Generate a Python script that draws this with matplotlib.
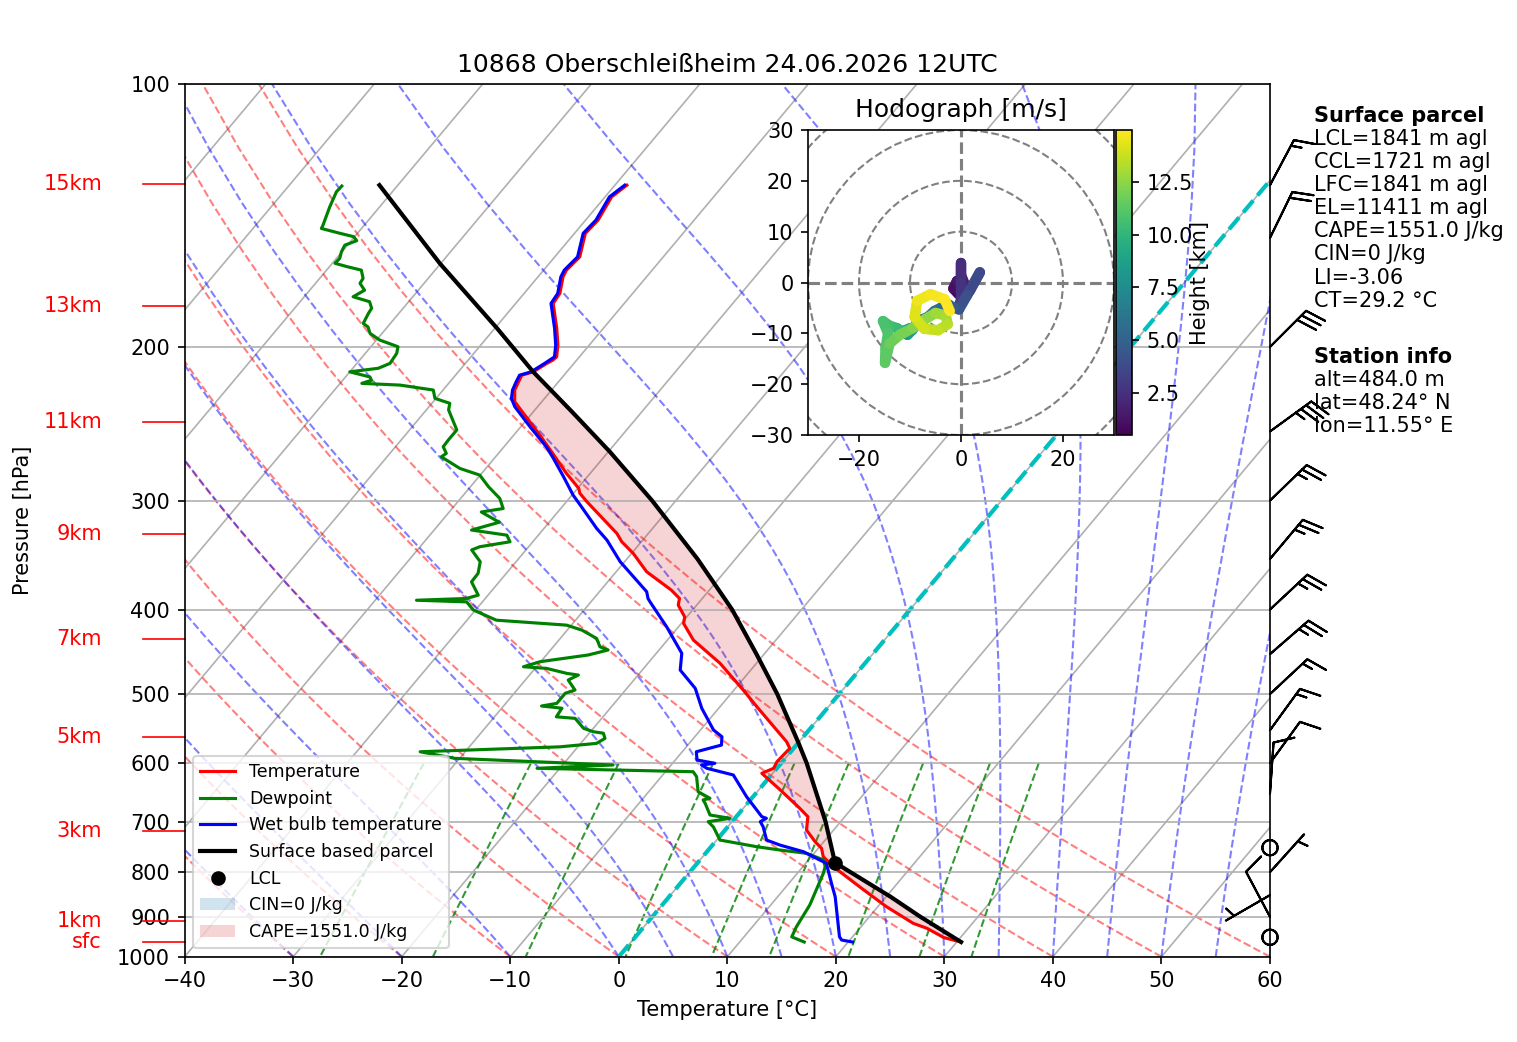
"""Skew-T log-p diagram with hodograph inset for station 10868."""

import numpy as np
import matplotlib

matplotlib.use("Agg")
import matplotlib.pyplot as plt
from matplotlib import transforms
from matplotlib.collections import LineCollection
from matplotlib.colors import Normalize
from matplotlib.patches import Circle, Patch
from matplotlib.ticker import NullLocator

# --- sounding ---------------------------------------------------------
temp_p = [962, 951, 927.8, 915.7, 876.4, 835, 788.5, 767.9, 751.2, 738.3,
          715.8, 691.1, 675.9, 644.1, 616.3, 608.2, 597.7, 589.9, 577, 567.1,
          517, 494.7, 461, 433.6, 414.9, 407.8, 395.4, 388.5, 380, 362,
          344.9, 334.5, 327.2, 301, 294.4, 290.5, 279.2, 264.9, 252.4, 238.3,
          231.1, 224.1, 215.5, 213.6, 208.9, 207.1, 205.3, 199.0, 190.4, 178.3,
          173.7, 166.2, 163.3, 157.7, 148.2, 143.1, 134.6, 130.5]
temp_c = [30.4, 28.5, 26.2, 24.55, 20.8, 17.1, 12.8, 11.1, 10.3, 9.2,
          7.5, 6.6, 5.2, 2.0, -1.0, -0.3, -0.5, -0.45, -0.35, -1.15,
          -6.6, -9.15, -13.35, -17.6, -19.8, -20.2, -21.7, -22.1, -23.5, -27.2,
          -29.85, -31.8, -32.9, -38.1, -39.4, -39.9, -42.2, -45.0, -47.6, -50.8,
          -52.5, -53.4, -53.9, -53.1, -52.5, -52.2, -52.1, -52.9, -54.3, -56.55,
          -56.7, -57.7, -57.9, -57.7, -59.0, -58.85, -59.4, -58.9]

dew_p = [962, 949, 923.9, 872.5, 802.4, 788.5, 774.7, 761.2, 754.6, 748,
         735, 710.2, 700.2, 694, 688, 667.1, 661.2, 658.3, 646.9, 621.8,
         613.7, 608.2, 602.9, 592.4, 582.2, 574.7, 569.5, 562, 554.4, 552.2,
         547.3, 533.1, 530.9, 519, 516, 512.4, 498.9, 494.7, 481.8, 475.5,
         473.4, 467.2, 465.2, 459, 451, 445.1, 441.3, 431.7, 422.3, 416.8,
         411.4, 400.5, 392, 390.3, 388.5, 385.1, 371.8, 363.6, 352.6, 341.8,
         338.9, 334.5, 328.7, 324.3, 317.7, 309.2, 306.4, 298.3, 289.2, 280.5,
         275.6, 267.3, 264.9, 260.3, 255.7, 249, 236.2, 232.1, 229.1, 224.1,
         221.2, 220.2, 218.4, 216.5, 213.6, 211.6, 208.9, 203.5, 199.9, 196.4,
         193, 189.7, 188, 183.1, 180.6, 177.5, 175.2, 172.2, 169.1, 166.9,
         163.3, 161.8, 160.4, 158.3, 155.6, 152.9, 151.1, 149.5, 148.2, 146.3,
         145.1, 138.2, 132.8, 130.8]
dew_c = [15.95, 14.4, 14.05, 13.6, 12.4, 12.05, 11.4, 9.3, 6.6, 4.2,
         0.3, -1.3, -2.2, -0.45, -2.55, -3.9, -4.35, -3.85, -5.45, -6.75,
         -7.45, -22.1, -15.35, -30.45, -34.15, -21.65, -18.55, -18.15, -18.7, -19.75,
         -20.9, -22.45, -24.3, -24.45, -26.5, -25.3, -25.3, -24.65, -26.05, -25.5,
         -26.7, -28.95, -31.2, -30.05, -26.15, -24.7, -25.7, -26.65, -28.65, -30.45,
         -37.3, -40.2, -41.45, -46.2, -41.75, -40.9, -42.55, -42.6, -43.3, -45.0,
         -44.5, -42.1, -42.9, -46.55, -44.6, -47.05, -45.3, -46.4, -48.35, -50.05,
         -52.4, -55.0, -54.8, -55.6, -55.65, -55.65, -57.95, -58.35, -60.1, -60.9,
         -64.35, -68.0, -67.35, -67.75, -70.0, -67.65, -66.95, -67.1, -67.5, -69.7,
         -71.1, -71.8, -72.5, -72.8, -72.9, -73.6, -75.5, -74.95, -75.9, -76.0,
         -76.8, -78.4, -79.75, -79.7, -80.05, -80.25, -79.5, -80.1, -81.6, -83.7,
         -83.8, -84.6, -85.15, -85.1]

wetbulb_p = [962, 957, 949, 853.6, 827.7, 781.5, 771.3, 758, 744.7, 735,
             709.6, 700.2, 694, 691, 655.5, 619, 608.2, 602.9, 600.2, 595,
             582.2, 572, 559.6, 549.7, 519.2, 492.5, 469.3, 449, 418.6, 392,
             388.5, 381.6, 352.6, 333, 322.9, 305.1, 295.7, 281.7, 268.4, 260.3,
             246.9, 234.2, 229.1, 224.1, 219.3, 215.5, 213.6, 208.9, 205.3, 199.0,
             190.4, 178.3, 173.7, 166.2, 163.3, 157.7, 148.2, 143.1, 134.6, 130.5]
wetbulb_c = [20.4, 19.25, 18.8, 15.3, 14.1, 11.9, 10.6, 8.9, 6.2, 4.6,
             3.25, 2.6, 2.9, 2.35, -0.6, -3.5, -6.45, -7.2, -6.1, -8.0,
             -8.7, -6.9, -7.5, -8.8, -11.55, -13.7, -16.5, -17.65, -21.1, -24.55,
             -25.0, -25.65, -30.4, -33.3, -35.15, -38.2, -39.9, -42.2, -44.55, -46.1,
             -49.15, -52.1, -53.05, -53.6, -53.9, -54.1, -53.3, -52.7, -52.3, -53.1,
             -54.5, -56.75, -56.9, -57.9, -58.1, -57.9, -59.2, -59.05, -59.6, -59.1]

parcel_p = [962, 900, 853.6, 780.2, 700, 600, 567.1, 500, 450, 400,
            350, 300, 263.8, 237.3, 213.6, 190.4, 160.4, 130.5]
parcel_c = [30.4, 24.7, 20.4, 12.65, 8.6, 2.35, -0.1, -5.7, -10.7, -16.4,
            -23.5, -32.2, -39.85, -46.45, -53.1, -59.8, -70.1, -81.7]
el_p = 213.6

lcl_p = 780.2
lcl_c = 12.65

# wind barbs: pressure [hPa], speed [kt], direction [deg]
wind_p = [130.5, 150, 200, 250, 300, 350, 400, 450, 500, 550,
          600, 650, 750, 800, 850, 900, 950]
wind_spd = [15, 20, 30, 35, 25, 25, 25, 25, 15, 15,
            10, 10, 0, 5, 5, 10, 0]
wind_dir = [28, 26, 45, 54, 46, 40, 47, 49, 47, 36,
            36, 4, 0, 42, 240, 332, 0]

# hodograph: height [km], u, v [m/s]
hodo_km = [0.48, 0.8, 1.1, 1.4, 1.7, 2.0, 2.3, 2.6, 2.8, 3.1,
           3.4, 3.7, 4.0, 4.3, 4.7, 5.1, 5.5, 6.0, 6.5, 7.0,
           7.5, 8.0, 8.5, 9.0, 9.5, 10.0, 10.3, 10.6, 10.8, 11.0,
           11.2, 11.4, 11.7, 12.0, 12.3, 12.6, 12.9, 13.1, 13.4, 13.7,
           14.0, 14.3, 14.6, 14.8, 14.98]
hodo_u = [-0.5, -1.5, -0.8, 0.8, 0.0, 0.0, 0.0, 0.0, -0.3, 1.8,
          3.7, 1.2, -0.4, -1.5, -2.5, -3.8, -5.2, -6.5, -7.8, -8.7,
          -9.5, -10.5, -11.2, -10.0, -11.5, -12.5, -14.0, -15.3, -14.3, -14.8,
          -14.9, -14.0, -12.0, -9.5, -7.0, -5.0, -3.0, -2.6, -4.5, -7.2,
          -9.1, -8.6, -6.0, -3.2, -2.2]
hodo_v = [-2.3, -1.2, 0.3, -0.5, 1.5, 3.9, 0.0, -3.5, -4.3, -1.5,
          2.0, -2.5, -5.3, -4.9, -4.3, -4.9, -5.6, -6.8, -7.3, -8.0,
          -9.3, -10.3, -9.5, -9.0, -9.7, -9.0, -8.5, -7.6, -10.0, -13.0,
          -15.8, -12.0, -10.3, -9.0, -7.2, -6.0, -6.5, -8.2, -9.4, -9.1,
          -6.8, -3.6, -2.3, -3.3, -5.6]
hodo_cbar_ticks = [2.5, 5.0, 7.5, 10.0, 12.5]

height_labels = ["15km", "13km", "11km", "9km", "7km", "5km", "3km", "1km", "sfc"]
height_p = [130.2, 179.4, 243.8, 327.4, 432.5, 560.4, 717.6, 910.0, 962.7]

p_ticks = [100, 200, 300, 400, 500, 600, 700, 800, 900, 1000]
t_ticks = list(range(-40, 61, 10))

# reference lines of the diagram
dry_t0 = np.arange(-40, 61, 10)
moist_t0 = np.concatenate((np.arange(-40, 0, 10), np.arange(0, 61, 5)))
mixing_ratios = [0.0004, 0.001, 0.002, 0.004, 0.007, 0.01, 0.016, 0.024, 0.032]

parcel_lines = ["LCL=1841 m agl", "CCL=1721 m agl", "LFC=1841 m agl",
                "EL=11411 m agl", "CAPE=1551.0 J/kg", "CIN=0 J/kg",
                "LI=-3.06", "CT=29.2 °C"]
station_lines = ["alt=484.0 m", "lat=48.24° N", "lon=11.55° E"]

RD = 287.04749
CPD = 1004.6662
LV = 2.50084e6
EPS = 0.6219569


def sat_mixing_ratio(t_k, p):
    es = 6.112 * np.exp(17.67 * (t_k - 273.15) / (t_k - 29.65))
    return EPS * es / (p - es)


def moist_lapse_rate(t_k, p):
    rs = sat_mixing_ratio(t_k, p)
    num = RD * t_k + LV * rs
    den = CPD + LV * LV * rs * EPS / (RD * t_k * t_k)
    return num / den / p


def moist_adiabats(t0, levels):
    t = np.asarray(t0, dtype=float) + 273.15
    out = []
    p_prev = levels[0]
    for p in levels:
        n = int(abs(p - p_prev) / 4) + 1
        h = (p - p_prev) / n
        pp = p_prev
        for _ in range(n):
            k1 = moist_lapse_rate(t, pp)
            k2 = moist_lapse_rate(t + h * k1 / 2, pp + h / 2)
            k3 = moist_lapse_rate(t + h * k2 / 2, pp + h / 2)
            k4 = moist_lapse_rate(t + h * k3, pp + h)
            t = t + h * (k1 + 2 * k2 + 2 * k3 + k4) / 6
            pp += h
        out.append(t - 273.15)
        p_prev = p
    return np.array(out).T


fig = plt.figure(figsize=(1517 / 150, 1042 / 150), dpi=150)
ax = fig.add_axes([0.12175, 0.08186, 0.71542, 0.83724])
ax.set_yscale("log")
ax.set_xlim(-40, 60)
ax.set_ylim(1000, 100)
ax.set_autoscale_on(False)

# skewed data transform: isotherms lean right with height
skew = (ax.transScale + ax.transLimits
        + transforms.Affine2D().skew(np.arctan(0.6744), 0) + ax.transAxes)

ax.set_yticks(p_ticks, labels=[str(p) for p in p_ticks])
ax.yaxis.set_minor_locator(NullLocator())
ax.set_xticks(t_ticks)
ax.yaxis.grid(True, color="#b0b0b0", linewidth=0.8)
ax.tick_params(labelsize=10)

for t in range(-120, 61, 10):
    ax.plot([t, t], [1000, 100], color="#b0b0b0", linewidth=0.8,
            transform=skew, zorder=0.8)

ref_p = np.linspace(1000, 100, 50)
dry = [np.column_stack(((t0 + 273.15) * (ref_p / 1000.0) ** 0.28571 - 273.15,
                        ref_p)) for t0 in dry_t0]
ax.add_collection(LineCollection(dry, colors="r", linestyles="dashed",
                                 alpha=0.5, linewidths=1, transform=skew,
                                 zorder=1), autolim=False)

moist_t = moist_adiabats(moist_t0, ref_p)
moist = [np.column_stack((row, ref_p)) for row in moist_t]
ax.add_collection(LineCollection(moist, colors="b", linestyles="dashed",
                                 alpha=0.5, linewidths=1, transform=skew,
                                 zorder=1), autolim=False)

mix_p = np.linspace(600, 1000, 50)
mix = []
for w in mixing_ratios:
    e = mix_p * w / (EPS + w)
    val = np.log(e / 6.112)
    mix.append(np.column_stack((243.5 * val / (17.67 - val), mix_p)))
ax.add_collection(LineCollection(mix, colors="g", linestyles="dashed",
                                 alpha=0.8, linewidths=1, transform=skew,
                                 zorder=1), autolim=False)

ax.plot([0, 0], [1000, 100], color="c", linestyle="--", linewidth=2,
        transform=skew, zorder=1.5)

# CAPE area between parcel and environment, surface to EL
pp_arr = np.array(parcel_p)
tp_arr = np.array(temp_p)
pm = pp_arr >= el_p
tm = tp_arr >= el_p
cape_x = np.concatenate((np.array(parcel_c)[pm], np.array(temp_c)[tm][::-1]))
cape_y = np.concatenate((pp_arr[pm], tp_arr[tm][::-1]))
ax.fill(cape_x, cape_y, facecolor="tab:red", alpha=0.2, linewidth=0,
        transform=skew, zorder=1.2)

l_t, = ax.plot(temp_c, temp_p, color="r", linewidth=1.5, transform=skew,
               label="Temperature", zorder=2)
l_td, = ax.plot(dew_c, dew_p, color="g", linewidth=1.5, transform=skew,
                label="Dewpoint", zorder=2)
l_tw, = ax.plot(wetbulb_c, wetbulb_p, color="b", linewidth=1.5,
                transform=skew, label="Wet bulb temperature", zorder=2)
l_pc, = ax.plot(parcel_c, parcel_p, color="k", linewidth=2, transform=skew,
                label="Surface based parcel", zorder=2.2)
l_lcl, = ax.plot([lcl_c], [lcl_p], "ko", transform=skew, label="LCL",
                 zorder=2.4)

spd = np.array(wind_spd, dtype=float)
wdir = np.deg2rad(wind_dir)
wu = -spd * np.sin(wdir)
wv = -spd * np.cos(wdir)
ax.barbs(np.ones(len(wind_p)), wind_p, wu, wv,
         transform=ax.get_yaxis_transform(), clip_on=False, zorder=3)

ytrans = ax.get_yaxis_transform()
for lab, p in zip(height_labels, height_p):
    ax.plot([-0.0384, 0], [p, p], color="red", linewidth=0.8,
            transform=ytrans, clip_on=False)
    ax.text(-0.0762, p, lab, color="red", fontsize=10, ha="right",
            va="center", transform=ytrans)

handles = [l_t, l_td, l_tw, l_pc, l_lcl,
           Patch(facecolor="tab:blue", alpha=0.2, label="CIN=0 J/kg"),
           Patch(facecolor="tab:red", alpha=0.2, label="CAPE=1551.0 J/kg")]
ax.legend(handles=handles, loc="lower left", fontsize="small")

ax.set_title("10868 Oberschleißheim 24.06.2026 12UTC", fontsize=12)
ax.set_xlabel("Temperature [°C]", fontsize=10)
ax.set_ylabel("Pressure [hPa]", fontsize=10)
ax.yaxis.set_label_coords(-0.1398, 0.5)

# hodograph inset
hax = fig.add_axes([0.53263, 0.58253, 0.20171, 0.29271])
hax.set_xlim(-30, 30)
hax.set_ylim(-30, 30)
for r in np.arange(10, 42, 10):
    hax.add_patch(Circle((0, 0), r, fill=False, edgecolor="grey",
                         linestyle="dashed", linewidth=1))
hax.axhline(0, color="grey", linestyle="dashed", linewidth=1.5)
hax.axvline(0, color="grey", linestyle="dashed", linewidth=1.5)
pts = np.column_stack((hodo_u, hodo_v)).reshape(-1, 1, 2)
segs = np.concatenate((pts[:-1], pts[1:]), axis=1)
norm = Normalize(min(hodo_km), max(hodo_km))
lc = LineCollection(segs, cmap="viridis", norm=norm, linewidths=5,
                    capstyle="round")
lc.set_array(np.array(hodo_km[1:]))
hax.add_collection(lc, autolim=False)
hax.set_xticks([-20, 0, 20])
hax.set_yticks(np.arange(-30, 31, 10))
hax.tick_params(labelsize=10)
hax.set_title("Hodograph [m/s]", fontsize=12)

cax = fig.add_axes([0.73566, 0.58253, 0.01055, 0.29271])
cb = fig.colorbar(lc, cax=cax)
cb.set_ticks(hodo_cbar_ticks)
cb.ax.tick_params(labelsize=10)
fig.text(1200 / 1517, 1 - 283 / 1042, "Height [km]", rotation=90,
         ha="center", va="center", fontsize=10)

# parcel and station summary on the right
tx = 1314 / 1517
fig.text(tx, 1 - 121.5 / 1042, "Surface parcel", fontsize=10,
         fontweight="bold", va="baseline")
for i, line in enumerate(parcel_lines):
    fig.text(tx, 1 - (145 + 23.1 * i) / 1042, line, fontsize=10,
             va="baseline")
fig.text(tx, 1 - 362.7 / 1042, "Station info", fontsize=10,
         fontweight="bold", va="baseline")
for i, line in enumerate(station_lines):
    fig.text(tx, 1 - (385.7 + 23 * i) / 1042, line, fontsize=10,
             va="baseline")

fig.savefig("out.png", dpi=150)
